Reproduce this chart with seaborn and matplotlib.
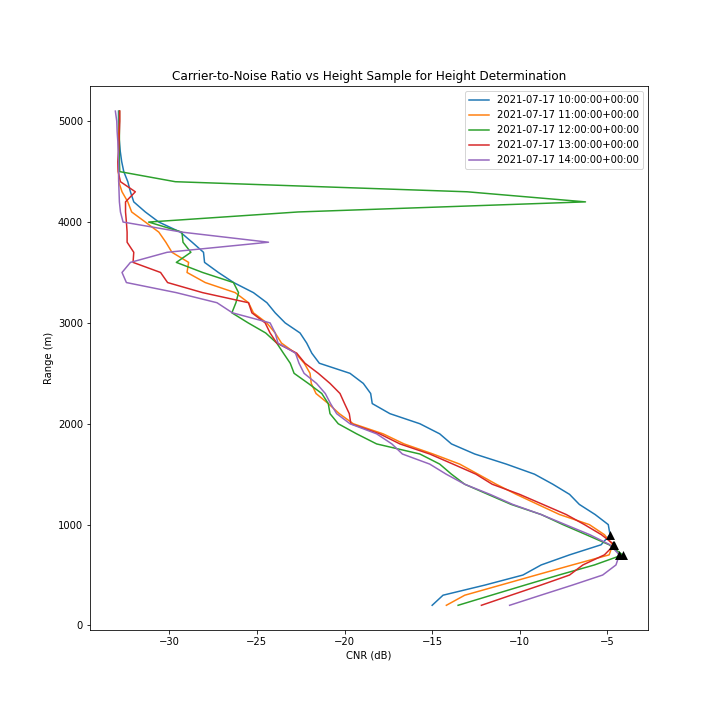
import matplotlib
matplotlib.use("Agg")
import matplotlib.pyplot as plt
import numpy as np
import pandas as pd
import seaborn as sns

# range gates (m)
heights = list(range(200, 5200, 100))

times = ['2021-07-17 10:00:00+00:00', '2021-07-17 11:00:00+00:00',
         '2021-07-17 12:00:00+00:00', '2021-07-17 13:00:00+00:00',
         '2021-07-17 14:00:00+00:00']

# CNR (dB), listed from 200 m upward
cnr_10 = [-15.0, -14.38, -12.0, -9.82, -8.78, -7.16, -5.36, -4.85, -4.95, -5.7,
          -6.6, -7.16, -8.11, -9.16, -10.77, -12.57, -13.9, -14.57, -15.7, -17.41,
          -18.42, -18.51, -18.93, -19.69, -21.44, -21.87, -22.16, -22.54, -23.39, -23.96,
          -24.43, -25.2, -26.33, -27.2, -27.99, -28.05, -28.7, -29.37, -30.6, -31.37,
          -32.03, -32.22, -32.37, -32.6, -32.72, -32.8, -32.85, -32.9, -32.9, -32.9]
cnr_11 = [-14.19, -13.14, -11.1, -9.06, -7.0, -4.9, -4.7, -5.17, -6.03, -7.73,
          -8.97, -10.2, -11.34, -12.38, -13.43, -14.95, -16.6, -17.8, -19.5, -20.3,
          -20.93, -21.63, -21.9, -21.97, -22.3, -22.8, -23.6, -23.96, -24.44, -25.2,
          -25.48, -26.24, -27.95, -28.99, -28.9, -29.85, -30.2, -30.6, -31.37, -32.15,
          -32.37, -32.7, -32.89, -32.9, -32.92, -32.9, -32.9, -32.88, -32.85, -32.85]
cnr_12 = [-13.52, -11.62, -9.71, -7.77, -5.74, -4.13, -4.9, -6.21, -7.54, -8.78,
          -10.49, -11.82, -13.14, -13.9, -14.57, -15.7, -18.17, -19.31, -20.36, -20.83,
          -20.93, -21.3, -22.07, -22.88, -23.1, -23.49, -23.87, -24.5, -25.5, -26.43,
          -26.2, -26.05, -26.34, -28.1, -29.6, -28.77, -29.22, -29.28, -31.18, -22.65,
          -6.25, -13.0, -29.66, -32.83, -32.85, -32.85, -32.85, -32.85, -32.85, -32.85]
cnr_13 = [-12.19, -10.5, -8.8, -7.16, -6.4, -5.17, -4.6, -5.34, -6.31, -7.35,
          -8.68, -10.01, -11.57, -12.5, -13.81, -15.14, -16.84, -18.0, -19.64, -19.73,
          -20.0, -20.26, -20.83, -21.5, -22.26, -22.73, -23.87, -24.25, -24.53, -25.29,
          -25.48, -28.1, -30.1, -30.5, -32.07, -32.03, -32.41, -32.41, -32.45, -32.5,
          -32.5, -31.94, -32.79, -32.92, -32.94, -32.89, -32.87, -32.85, -32.83, -32.83]
cnr_14 = [-10.58, -8.8, -7.0, -5.27, -4.51, -4.32, -4.85, -6.0, -7.4, -8.78,
          -10.4, -11.7, -13.14, -14.2, -15.14, -16.7, -17.3, -18.17, -19.69, -20.45,
          -20.8, -21.1, -21.6, -22.31, -22.6, -22.8, -23.8, -23.96, -24.25, -26.4,
          -27.28, -29.6, -32.45, -32.7, -32.22, -30.13, -24.34, -29.28, -32.64, -32.79,
          -32.85, -32.87, -32.89, -32.89, -32.9, -32.92, -32.94, -32.98, -33.0, -33.08]

df = pd.concat([pd.DataFrame({'time': t, 'range': heights, 'cnr': c})
                for t, c in zip(times, [cnr_10, cnr_11, cnr_12, cnr_13, cnr_14])],
               ignore_index=True)

fig = plt.figure(figsize=(10, 10), dpi=72)
ax = fig.add_subplot(111)
fig.subplots_adjust(left=0.125, right=0.9, top=0.88, bottom=0.125)

sns.lineplot(data=df, x='cnr', y='range', hue='time', palette='tab10',
             orient='y', estimator=None, ax=ax)

# mark the peak CNR of each profile
peaks = df.loc[df.groupby('time')['cnr'].idxmax()]
sns.scatterplot(data=peaks, x='cnr', y='range', marker='^', color='black',
                s=80, linewidth=0, ax=ax, legend=False, zorder=5)

handles, labels = ax.get_legend_handles_labels()
ax.legend(handles, labels, loc='upper right')
ax.set_xlabel('CNR (dB)')
ax.set_ylabel('Range (m)')
ax.set_title('Carrier-to-Noise Ratio vs Height Sample for Height Determination')

fig.savefig('out.png', dpi=72)
